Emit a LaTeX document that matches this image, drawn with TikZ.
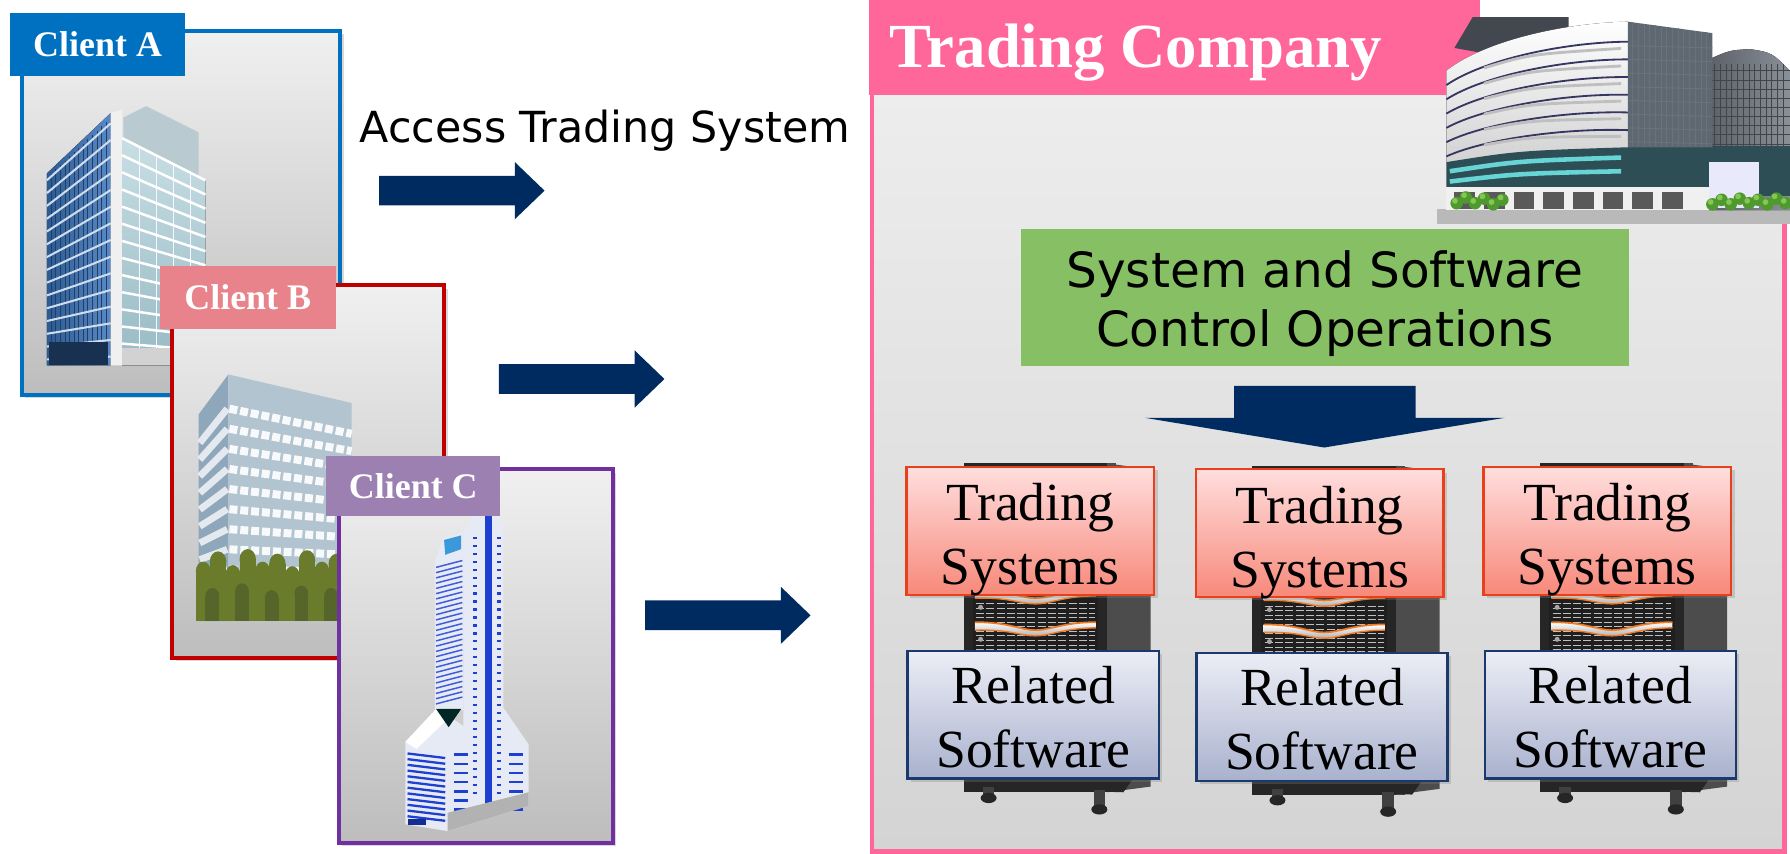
\documentclass[tikz,border=0pt]{standalone}
\usepackage{fontspec}
\setmainfont{Liberation Serif}
\newfontfamily\uisans{DejaVu Sans}
\usetikzlibrary{shadows}

\definecolor{arrowNavy}{HTML}{002B60}
\definecolor{clientBlue}{HTML}{0070C0}
\definecolor{clientRed}{HTML}{C00000}
\definecolor{clientRose}{HTML}{E8838B}
\definecolor{clientPurple}{HTML}{7030A0}
\definecolor{clientLilac}{HTML}{9B80B1}
\definecolor{companyPink}{HTML}{FF6699}
\definecolor{opsGreen}{HTML}{86BF64}
\definecolor{panelTop}{HTML}{F0F0F0}
\definecolor{panelBot}{HTML}{BDBDBD}
\definecolor{hallTop}{HTML}{EDEDED}
\definecolor{hallBot}{HTML}{D4D4D4}
\definecolor{tsEdge}{HTML}{E8401A}
\definecolor{tsTop}{HTML}{FFDEDE}
\definecolor{tsBot}{HTML}{F7897A}
\definecolor{rsEdge}{HTML}{1A3A6E}
\definecolor{rsTop}{HTML}{ECEEF6}
\definecolor{rsBot}{HTML}{A9B1CD}
\definecolor{rackDark}{HTML}{262626}
\definecolor{rackSide}{HTML}{4C4C4C}
\definecolor{driveOrange}{HTML}{F07A22}
\definecolor{blueFace}{HTML}{5A8AC6}
\definecolor{blueDeep}{HTML}{2C5A92}
\definecolor{glassTop}{HTML}{C8DEE4}
\definecolor{glassBot}{HTML}{98BAC4}
\definecolor{bLeft}{HTML}{8FA7BA}
\definecolor{bFront}{HTML}{B2C4D0}
\definecolor{treeGreen}{HTML}{6B7B2C}
\definecolor{treeDark}{HTML}{56662A}
\definecolor{towerWhite}{HTML}{E6EAF4}
\definecolor{towerBlue}{HTML}{1E3FD0}
\definecolor{hqDark}{HTML}{43474F}
\definecolor{hqGlass}{HTML}{5E6872}
\definecolor{hqRearA}{HTML}{5C6169}
\definecolor{hqRearB}{HTML}{8A9098}
\definecolor{hqTeal}{HTML}{2E4E55}
\definecolor{hqLeaf}{HTML}{4E9A2E}
\definecolor{hqLeafLight}{HTML}{86C652}

\begin{document}
\begin{tikzpicture}[x=1pt,y=-1pt,
  softshadow/.style={drop shadow={shadow xshift=3pt,shadow yshift=-3pt,opacity=0.3}},
  panel/.style={anchor=north west, outer sep=0pt, inner sep=0pt, line width=3.5pt,
    top color=panelTop, bottom color=panelBot, softshadow},
  tag/.style={anchor=north west, outer sep=0pt, inner sep=0pt, text=white,
    font=\bfseries\fontsize{31.5}{34}\selectfont},
  tsbox/.style={draw=tsEdge, line width=2pt, top color=tsTop, bottom color=tsBot,
    minimum width=217pt, minimum height=112pt, inner sep=0pt, softshadow},
  rsbox/.style={draw=rsEdge, line width=2pt, top color=rsTop, bottom color=rsBot,
    minimum width=220pt, minimum height=112pt, inner sep=0pt, softshadow},
  boxtext/.style={align=center, inner sep=0pt, font=\fontsize{47}{56}\selectfont},
  rightarrow/.pic={\fill[arrowNavy] (0,-13) -- (119,-13) -- (119,-25) -- (145,0)
      -- (119,25) -- (119,13) -- (0,13) -- cycle;},
  rack/.pic={
    % cabinet side and front
    \fill[rackSide] (176,-3) -- (214,2) -- (214,280) -- (176,285) -- cycle;
    \fill[gray!60!black] (176,-3) rectangle (184,285);
    \fill[rackDark] (50,-3) rectangle (176,285);
    \fill[black!88] (58,100) rectangle (168,170);
    % drive bays
    \foreach \yy in {120,124,...,168}
      \draw[gray!50, line width=0.8pt, dash pattern=on 7pt off 2pt] (61,\yy) -- (165,\yy);
    \foreach \yo in {0,28}{
      \fill[top color=white, bottom color=gray!60]
        (60,{108+\yo}) .. controls (90,{108+\yo}) and (100,{115+\yo}) .. (113,{115+\yo})
        .. controls (126,{115+\yo}) and (138,{108+\yo}) .. (166,{108+\yo})
        -- (166,{113+\yo}) .. controls (138,{113+\yo}) and (126,{120+\yo}) .. (113,{120+\yo})
        .. controls (100,{120+\yo}) and (90,{114+\yo}) .. (60,{115+\yo}) -- cycle;
      \draw[driveOrange, line width=1.5pt]
        (60,{108+\yo}) .. controls (90,{108+\yo}) and (100,{115+\yo}) .. (113,{115+\yo})
        .. controls (126,{115+\yo}) and (138,{108+\yo}) .. (166,{108+\yo});
      \draw[driveOrange, line width=1.2pt]
        (166,{113+\yo}) .. controls (138,{113+\yo}) and (126,{120+\yo}) .. (113,{120+\yo})
        .. controls (100,{120+\yo}) and (90,{114+\yo}) .. (60,{115+\yo});
      \fill[gray!70] (65,{123+\yo}) circle (2.2);
    }
    % plinth and castors
    \fill[rackDark] (50,271) -- (200,271) -- (190,285) -- (60,281) -- cycle;
    \fill[black!75] (67,280) rectangle (77,290);
    \fill[black!85] (72,290) ellipse (7 and 4.5);
    \fill[black!75] (164,283) rectangle (174,299);
    \fill[black!85] (169,300) ellipse (7 and 4.5);
  }
]
\useasboundingbox (0,0) rectangle (1568,748);
\fill[white] (0,0) rectangle (1568,748);

%================ Client A =================
\node[panel, draw=clientBlue, minimum width=279pt, minimum height=319pt] (frameA) at (19,27) {};
% office tower
\fill[left color=blueDeep, right color=blueFace] (41,152) -- (97,99) -- (97,320) -- (41,320) -- cycle;
\foreach \x in {45,49,...,93}
  \draw[blueDeep!70!black, line width=0.9pt] (\x,{156-(\x-41)*53/56}) -- (\x,318);
\foreach \k in {0,...,14}
  \draw[white!70!blueFace, line width=1.8pt] (41,{158+\k*11.2}) -- (97,{108+\k*14.6});
\fill[blueDeep!55!black] (43,300) rectangle (95,320);
\fill[white!88!gray] (97,99) -- (107,96) -- (107,320) -- (97,320) -- cycle;
\fill[glassTop!80!gray] (108,103) -- (128,93) -- (174,116) -- (174,158) -- (108,124) -- cycle;
\fill[top color=glassTop, bottom color=glassBot] (107,121) -- (180,158) -- (180,320) -- (107,320) -- cycle;
\foreach \x in {122,137,152,167}
  \draw[white!80!glassTop, line width=0.8pt] (\x,{121+(\x-107)*37/73}) -- (\x,318);
\foreach \k in {0,...,12}
  \draw[white, line width=2.2pt] (107,{121+\k*15}) -- (180,{158+\k*12.4});
\fill[gray!35] (107,305) rectangle (180,320);
\node[tag, fill=clientBlue, minimum width=153pt, minimum height=56pt] (tagA) at (9,11) {Client A};

%================ Client B =================
\node[panel, draw=clientRed, minimum width=238pt, minimum height=326pt] (frameB) at (151,250) {};
\fill[bLeft] (174,363) -- (200,328) -- (200,544) -- (174,544) -- cycle;
\fill[bFront] (200,328) -- (308,353) -- (308,544) -- (200,544) -- cycle;
\foreach \k in {0,...,8}{
  \draw[white!90!bFront, line width=7pt, dash pattern=on 7pt off 2.5pt]
    (201,{358+\k*17.6}) -- (308,{358+\k*17.6+22*(1-\k/9)});
  \draw[white!75!bLeft, line width=6pt]
    (175,{358+\k*17.6+30*(1-\k/10)}) -- (199,{358+\k*17.6});
}
% row of shrubs in front of the building
\fill[treeGreen] (172,512) rectangle (310,544);
\foreach \x/\t/\r in {178/500/8,191/492/9,204/503/8,217/490/9,230/500/8,243/494/9,256/504/8,269/491/9,282/500/8,295/494/9,306/499/7}{
  \fill[treeGreen] (\x,\t) ellipse ({\r*0.8} and \r);
  \fill[treeGreen] (\x-\r*0.8,\t) rectangle (\x+\r*0.8,514);
}
\foreach \x/\t in {186/522,212/518,238/524,264/520,290/522}{
  \fill[treeDark] (\x,\t) ellipse (6 and 7);
  \fill[treeDark] (\x-6,\t) rectangle (\x+6,544);
}
\node[tag, fill=clientRose, minimum width=154pt, minimum height=55pt] (tagB) at (140,233) {Client B};

%================ Client C =================
\node[panel, draw=clientPurple, minimum width=240pt, minimum height=327pt] (frameC) at (297,411) {};
% slim tower with podium
\fill[towerWhite] (406,466) -- (414,452) -- (441,455) -- (441,640) -- (406,640) -- cycle;
\fill[towerWhite] (381,492) -- (388,471) -- (406,466) -- (406,622) -- (381,622) -- cycle;
\foreach \i in {0,...,26}
  \draw[towerBlue!85, line width=1.3pt] (382,{497+\i*4.6}) -- (405,{491+\i*4.6});
\fill[cyan!70!blue!80] (389,473) -- (404,469) -- (404,481) -- (390,486) -- cycle;
\fill[towerWhite] (355,650) -- (383,620) -- (406,636) -- (441,620) -- (463,652)
  -- (463,706) -- (392,728) -- (355,722) -- cycle;
\fill[white] (355,650) -- (383,620) -- (392,630) -- (365,656) -- cycle;
\fill[black!70!teal] (382,621) -- (404,621) -- (393,637) -- cycle;
\foreach \i in {0,...,11}
  \draw[towerBlue, line width=2pt] (357,{660+\i*5}) -- (390,{664+\i*5});
\foreach \yy in {470,477,...,700}{
  \fill[towerBlue] (414,\yy) rectangle (418,\yy+1.8);
  \fill[towerBlue] (435,\yy) rectangle (439,\yy+1.8);
}
\foreach \yy in {660,668,...,708}{
  \fill[towerBlue] (398,\yy) rectangle (410,\yy+2.2);
  \fill[towerBlue] (446,\yy) rectangle (458,\yy+2.2);
}
\fill[towerBlue] (425,452) rectangle (431,715);
\draw[gray, line width=0.8pt] (428,448) -- (428,452);
\fill[gray!60] (392,712) -- (463,694) -- (463,706) -- (392,728) -- cycle;
\fill[towerBlue!70!black] (357,717) rectangle (373,723);
\node[tag, fill=clientLilac, minimum width=152pt, minimum height=53pt] (tagC) at (286,399) {Client C};

%================ access arrows =================
\node[anchor=base west, inner sep=0pt, font=\uisans\fontsize{37.5}{42}\selectfont] (access) at (315,125) {Access Trading System};
\pic at (332,167) {rightarrow};
\pic at (437,332) {rightarrow};
\pic at (565,539) {rightarrow};

%================ Trading company =================
\node[anchor=north west, outer sep=0pt, inner sep=0pt, draw=companyPink, line width=4pt,
  top color=hallTop, bottom color=hallBot, minimum width=799pt, minimum height=666pt] (hall) at (764,80) {};
\node[anchor=north west, outer sep=0pt, inner sep=0pt, fill=companyPink,
  minimum width=535pt, minimum height=83pt] (header) at (761,0) {};
\node[anchor=base west, inner sep=0pt, text=white, font=\bfseries\fontsize{55}{60}\selectfont] (company) at (779,59) {Trading Company};

% headquarters building
\fill[gray!55] (1259,183) rectangle (1568,196);
\fill[left color=hqRearA, right color=hqRearB] (1497,52) .. controls (1515,44) .. (1533,43)
  .. controls (1552,46) .. (1568,62) -- (1568,184) -- (1497,184) -- cycle;
\foreach \x in {1502,1507,...,1566} \draw[hqRearA!70!black, line width=0.6pt] (\x,56) -- (\x,130);
\foreach \yy in {62,70,...,126} \draw[hqRearA!70!black, line width=0.6pt] (1497,\yy) -- (1568,\yy);
\fill[hqTeal] (1497,128) rectangle (1568,172);
\fill[hqDark] (1274,42) -- (1290,15) -- (1374,15) -- (1374,60) -- cycle;
\fill[top color=white, bottom color=gray!35] (1267,62) .. controls (1300,36) and (1370,20) .. (1426,19)
  -- (1426,130) -- (1267,142) -- cycle;
\foreach \k in {1,...,6}
  \draw[gray!70!blue!60!black, line width=1.6pt] (1267,{62+\k*12.5}) .. controls (1300,{38+\k*14}) and (1370,{22+\k*15}) .. (1426,{21+\k*15.5});
\foreach \k in {1,...,6}
  \draw[gray!50, line width=2.5pt] (1300,{46+\k*13.5}) .. controls (1340,{33+\k*14.5}) .. (1420,{27+\k*15.4});
\fill[hqGlass] (1426,19) -- (1500,29) -- (1500,130) -- (1426,130) -- cycle;
\foreach \x in {1430,1435,...,1498} \draw[gray!45!hqGlass, line width=0.7pt] (\x,{19+(\x-1426)*10/74}) -- (\x,128);
\foreach \yy in {40,52,...,124} \draw[gray!45!hqGlass, line width=0.8pt] (1426,\yy) -- (1500,\yy+2);
\fill[hqTeal] (1267,142) .. controls (1330,132) .. (1426,129) -- (1500,129) -- (1500,165) -- (1267,166) -- cycle;
\draw[white!60!hqTeal!60!cyan, line width=4pt] (1270,150) .. controls (1330,141) .. (1420,138);
\draw[white!60!hqTeal!60!cyan, line width=4pt] (1270,159) .. controls (1330,152) .. (1420,150);
\fill[gray!12] (1267,164) rectangle (1500,184);
\foreach \x in {1274,1300,...,1480} \fill[gray!70!black] (\x,168) rectangle (\x+18,183);
\fill[gray!25!blue!10] (1497,142) rectangle (1541,182);
\foreach \x/\yy in {1276/178,1284/173,1292/178,1300/174,1308/179,1316/175}{
  \fill[hqLeaf] (\x,\yy) circle (5.5);
  \fill[hqLeafLight] (\x-1.5,\yy-2) circle (2.5);
}
\foreach \x/\yy in {1500/179,1508/175,1516/179,1524/174,1532/178,1540/175,1548/179,1556/174,1564/178}{
  \fill[hqLeaf] (\x,\yy) circle (5.5);
  \fill[hqLeafLight] (\x-1.5,\yy-2) circle (2.5);
}

% operations box and downward arrow
\node[anchor=north west, outer sep=0pt, inner sep=0pt, fill=opsGreen,
  minimum width=533pt, minimum height=120pt] (ops) at (894,201) {};
\node[align=center, inner sep=0pt, font=\uisans\fontsize{42.5}{51}\selectfont] (opstext)
  at ([yshift=-5pt]ops.center) {System and Software\\Control Operations};
\fill[arrowNavy] (1081,338) -- (1240,338) -- (1240,366) -- (1318,366) -- (1160,392)
  -- (1003,366) -- (1081,366) -- cycle;

% server racks
\pic at (794,409) {rack};
\pic at (1047,411) {rack};
\pic at (1299,409) {rack};

\node[tsbox] (ts1) at (902.5,465) {};
\node[tsbox] (ts2) at (1156,467) {};
\node[tsbox] (ts3) at (1408,465) {};
\node[boxtext] (ts1txt) at ([yshift=-8pt]ts1.center) {Trading\\Systems};
\node[boxtext] (ts2txt) at ([yshift=-8pt]ts2.center) {Trading\\Systems};
\node[boxtext] (ts3txt) at ([yshift=-8pt]ts3.center) {Trading\\Systems};

\node[rsbox] (rs1) at (905,626) {};
\node[rsbox] (rs2) at (1158,628) {};
\node[rsbox] (rs3) at (1410.5,626) {};
\node[boxtext] (rs1txt) at ([yshift=-2pt]rs1.center) {Related\\Software};
\node[boxtext] (rs2txt) at ([yshift=-2pt]rs2.center) {Related\\Software};
\node[boxtext] (rs3txt) at ([yshift=-2pt]rs3.center) {Related\\Software};
\end{tikzpicture}
\end{document}
